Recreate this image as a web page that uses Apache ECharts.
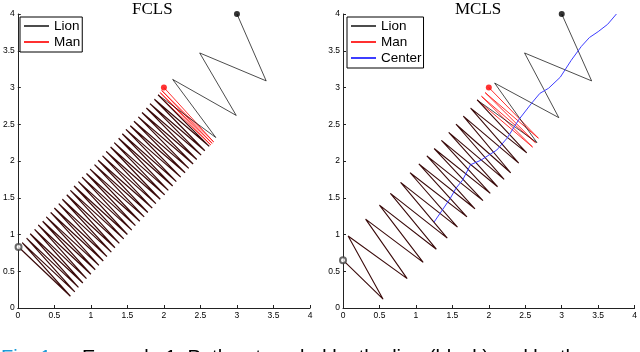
<!DOCTYPE html>
<html>
<head>
<meta charset="utf-8">
<script src="https://cdn.jsdelivr.net/npm/echarts@6/dist/echarts.min.js"></script>
<style>
  html, body { margin: 0; padding: 0; background: #fff; }
  #chart { width: 640px; height: 352px; }
</style>
</head>
<body>
<div id="chart"></div>
<script>
// tick labels shared by both panels
const ticks = [0, 0.5, 1, 1.5, 2, 2.5, 3, 3.5, 4]

// FCLS panel: lion's big zigzags, man's first strokes, then the dense zigzag both share
const fclsLionHead = [[3.00, 4.00], [3.40, 3.09], [2.49, 3.47], [2.99, 2.62], [2.12, 3.11], [2.71, 2.32]]
const fclsManHead = [[2.00, 3.00], [2.68, 2.26], [1.97, 2.96], [2.66, 2.24], [1.95, 2.93], [2.64, 2.22]]
const fclsZigzag = [
  [1.92, 2.90], [2.62, 2.20], [1.87, 2.84], [2.56, 2.14], [1.81, 2.78], [2.51, 2.08], [1.76, 2.72], [2.45, 2.02],
  [1.70, 2.66], [2.40, 1.96], [1.65, 2.60], [2.34, 1.90], [1.59, 2.54], [2.29, 1.84], [1.54, 2.48], [2.23, 1.78],
  [1.48, 2.43], [2.17, 1.72], [1.43, 2.37], [2.12, 1.66], [1.38, 2.31], [2.06, 1.60], [1.32, 2.25], [2.01, 1.54],
  [1.27, 2.19], [1.95, 1.48], [1.21, 2.13], [1.89, 1.42], [1.16, 2.07], [1.84, 1.36], [1.10, 2.01], [1.78, 1.30],
  [1.05, 1.95], [1.73, 1.24], [0.99, 1.89], [1.67, 1.18], [0.94, 1.83], [1.61, 1.12], [0.88, 1.78], [1.56, 1.06],
  [0.83, 1.72], [1.50, 1.00], [0.77, 1.66], [1.45, 0.94], [0.72, 1.60], [1.39, 0.88], [0.67, 1.54], [1.33, 0.82],
  [0.61, 1.48], [1.28, 0.76], [0.56, 1.42], [1.22, 0.70], [0.50, 1.36], [1.17, 0.64], [0.45, 1.30], [1.11, 0.58],
  [0.39, 1.24], [1.06, 0.52], [0.34, 1.18], [1.00, 0.46], [0.28, 1.13], [0.94, 0.40], [0.23, 1.07], [0.89, 0.34],
  [0.17, 1.01], [0.83, 0.28], [0.12, 0.95], [0.78, 0.22], [0.06, 0.89], [0.72, 0.16], [0.01, 0.83]
]
const fclsStartLion = [3.00, 4.00]
const fclsStartMan = [2.00, 3.00]
const fclsEnd = [0.01, 0.83]

// MCLS panel
const mclsLionHead = [[3.00, 4.00], [3.41, 3.09], [2.49, 3.47], [2.96, 2.59], [2.08, 3.06], [2.66, 2.25]]
const mclsManHead = [[2.00, 3.00], [2.68, 2.31], [1.95, 2.93], [2.64, 2.25], [1.90, 2.88], [2.60, 2.19]]
const mclsZigzag = [
  [1.84, 2.83], [2.52, 2.11], [1.75, 2.72], [2.41, 1.97], [1.65, 2.61], [2.30, 1.84], [1.55, 2.50], [2.21, 1.75],
  [1.45, 2.39], [2.12, 1.65], [1.35, 2.28], [2.02, 1.56], [1.25, 2.17], [1.92, 1.46], [1.15, 2.07], [1.81, 1.35],
  [1.04, 1.96], [1.70, 1.24], [0.92, 1.84], [1.57, 1.10], [0.79, 1.71], [1.43, 0.95], [0.65, 1.56], [1.28, 0.80],
  [0.50, 1.40], [1.10, 0.62], [0.31, 1.21], [0.88, 0.40], [0.07, 0.98], [0.55, 0.12], [0.00, 0.65]
]
const mclsCenter = [
  [1.25, 1.17], [1.36, 1.33], [1.47, 1.49], [1.55, 1.63], [1.64, 1.74], [1.75, 1.95], [1.89, 2.01],
  [2.00, 2.08], [2.11, 2.15], [2.25, 2.31], [2.41, 2.56], [2.59, 2.79], [2.70, 2.92], [2.82, 2.99],
  [2.98, 3.14], [3.13, 3.37], [3.27, 3.56], [3.38, 3.68], [3.50, 3.76], [3.63, 3.86], [3.75, 4.00]
]
const mclsStartLion = [3.00, 4.00]
const mclsStartMan = [2.00, 3.00]
const mclsEnd = [0.00, 0.65]

const labelFont = 'Liberation Sans'

function makeAxis(idx) {
  return {
    type: 'value',
    gridIndex: idx,
    min: ticks[0],
    max: ticks[ticks.length - 1],
    interval: 0.5,
    axisLine: { lineStyle: { color: '#222', width: 1 } },
    axisTick: { inside: true, length: 3, lineStyle: { color: '#222' } },
    axisLabel: { fontSize: 8.5, color: '#000', fontFamily: labelFont, margin: 3 },
    splitLine: { show: false }
  }
}

function pathSeries(name, idx, data, color, opacity, width) {
  return {
    name: name,
    type: 'line',
    xAxisIndex: idx,
    yAxisIndex: idx,
    data: data,
    symbol: 'none',
    lineStyle: { color: color, width: width || 1, opacity: opacity },
    itemStyle: { color: color },
    z: 2
  }
}

function dot(idx, point, color, empty) {
  return {
    type: 'scatter',
    xAxisIndex: idx,
    yAxisIndex: idx,
    data: [point],
    symbol: empty ? 'emptyCircle' : 'circle',
    symbolSize: 6,
    itemStyle: { color: color, borderWidth: empty ? 1 : 0 },
    z: 5
  }
}

function legendBox(left, names) {
  return {
    left: left,
    top: 17,
    orient: 'vertical',
    data: names,
    itemWidth: 25,
    itemHeight: 14,
    itemGap: 2,
    padding: [2, 2, 3, 3],
    borderColor: '#000',
    borderWidth: 1,
    backgroundColor: '#fff',
    itemStyle: { opacity: 0 },
    textStyle: { fontSize: 13.5, color: '#000', fontFamily: labelFont },
    selectedMode: false
  }
}

const chart = echarts.init(document.getElementById('chart'))

chart.setOption({
  animation: false,
  backgroundColor: '#fff',
  grid: [
    { left: 15, top: 14, width: 295, height: 294 },
    { left: 343, top: 14, width: 294, height: 294 }
  ],
  xAxis: [makeAxis(0), makeAxis(1)],
  yAxis: [makeAxis(0), makeAxis(1)],
  legend: [legendBox(20, ['Lion', 'Man']), legendBox(347, ['Lion', 'Man', 'Center'])],
  series: [
    pathSeries('Man', 0, fclsManHead.concat([fclsZigzag[0]]), '#ff1a1a', 0.9),
    pathSeries('Lion', 0, fclsLionHead.concat([fclsZigzag[0]]), '#000', 0.7),
    // where both paths coincide the lines come out dark brown
    pathSeries('', 0, fclsZigzag, '#3a0a0a', 1, 1.2),
    dot(0, fclsStartLion, '#000', false),
    dot(0, fclsStartMan, '#ff0000', false),
    dot(0, fclsEnd, '#444', true),
    pathSeries('Man', 1, mclsManHead.concat([mclsZigzag[0]]), '#ff1a1a', 0.9),
    pathSeries('Lion', 1, mclsLionHead.concat([mclsZigzag[0]]), '#000', 0.7),
    pathSeries('', 1, mclsZigzag, '#3a0a0a', 1, 1.1),
    pathSeries('Center', 1, mclsCenter, '#3d3dff', 1),
    dot(1, mclsStartLion, '#000', false),
    dot(1, mclsStartMan, '#ff0000', false),
    dot(1, mclsEnd, '#444', true)
  ],
  graphic: [
    { type: 'text', left: 132, top: 1, style: { text: 'FCLS', fill: '#000', font: '17px "Liberation Serif"' } },
    { type: 'text', left: 455, top: 1, style: { text: 'MCLS', fill: '#000', font: '17px "Liberation Serif"' } },
    // caption, cut off by the bottom edge like in the source
    { type: 'text', left: 1, top: 348, style: { text: 'Fig. 1', fill: '#1d9bd7', font: '20px "Liberation Sans"' } },
    { type: 'text', left: 82, top: 348, style: { text: 'Example 1: Pathes traveled by the lion (black) and by the', fill: '#000', font: '20px "Liberation Sans"' } }
  ]
})
</script>
</body>
</html>
